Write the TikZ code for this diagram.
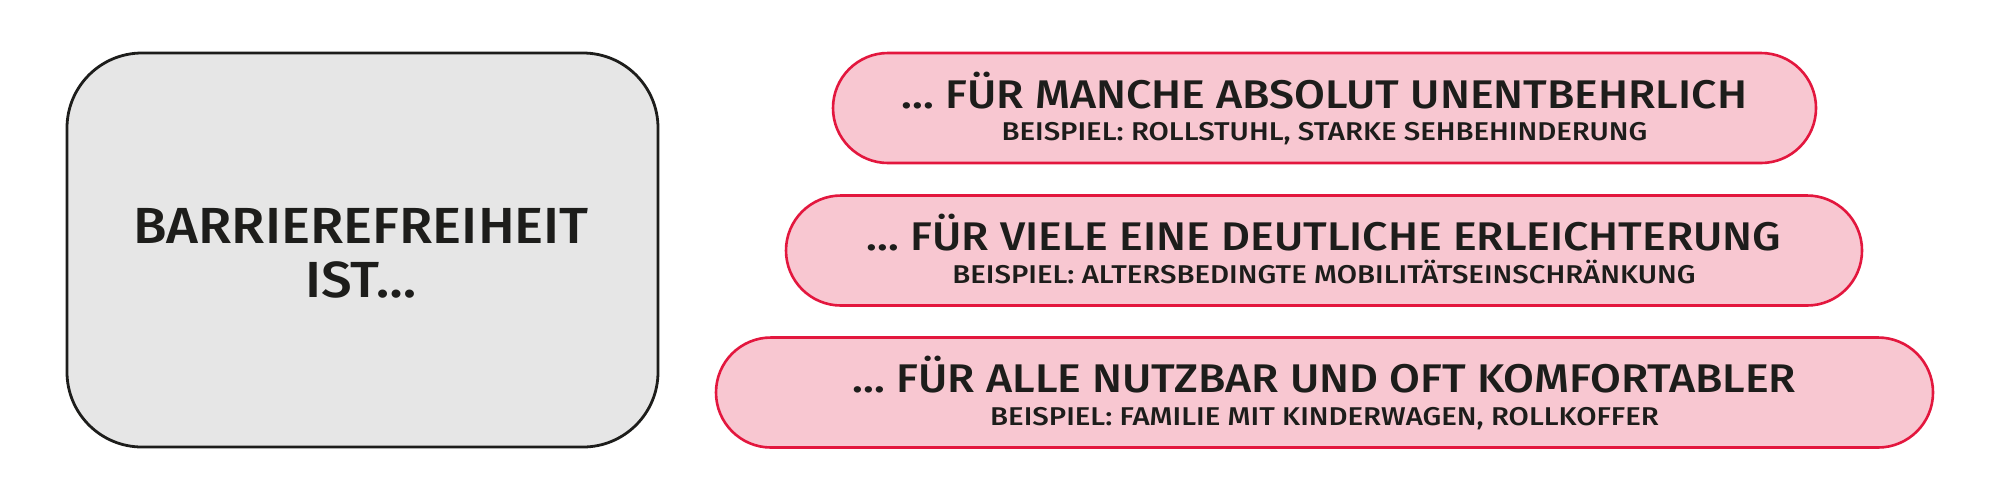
\documentclass[tikz,border=0pt]{standalone}
\usepackage{fontspec}
\setmainfont{Fira Sans}[UprightFont=* Medium]
\newfontfamily\titlefont{Fira Sans}[UprightFont=* Medium, FakeStretch=1.077]
\newfontfamily\headfont{Fira Sans}[UprightFont=* Medium, FakeStretch=1.117]
\newfontfamily\subfont{Fira Sans}[UprightFont=* Medium, FakeStretch=1.143]
\definecolor{ink}{HTML}{1D1D1B}
\definecolor{pinkfill}{HTML}{F8C7D1}
\definecolor{redline}{HTML}{E3173E}
\definecolor{grayfill}{HTML}{E6E6E6}
\tikzset{
  mainbox/.style={draw=ink, fill=grayfill, line width=1.4pt, rounded corners=37.5pt, rectangle, inner sep=0pt},
  pill/.style={draw=redline, fill=pinkfill, line width=1.3pt, rounded corners=27.5pt, rectangle, inner sep=0pt, minimum height=55pt},
  titletxt/.style={text=ink, inner sep=0pt, anchor=base, font=\titlefont\fontsize{25.4}{27}\selectfont},
  headtxt/.style={text=ink, inner sep=0pt, anchor=base, font=\headfont\fontsize{20}{23}\selectfont},
  subtxt/.style={text=ink, inner sep=0pt, anchor=base, font=\subfont\fontsize{12.85}{15}\selectfont}
}
\begin{document}
\begin{tikzpicture}[x=0.5pt,y=-0.5pt]
\useasboundingbox (0,0) rectangle (2000,500);
\fill[white] (0,0) rectangle (2000,500);
% left box
\node[mainbox, minimum width=295.5pt, minimum height=197pt] (main) at (362.5,250) {};
\node[titletxt] (t1) at (361,243) {BARRIEREFREIHEIT};
\node[titletxt] (t2) at (361,297) {IST…};
% pills
\node[pill, minimum width=491.5pt] (p1) at (1324.5,108) {};
\node[headtxt] (h1) at (1324.5,108) {… FÜR MANCHE ABSOLUT UNENTBEHRLICH};
\node[subtxt] (s1) at (1324.5,140) {BEISPIEL: ROLLSTUHL, STARKE SEHBEHINDERUNG};
\node[pill, minimum width=538pt] (p2) at (1324,250.5) {};
\node[headtxt] (h2) at (1324,250.5) {… FÜR VIELE EINE DEUTLICHE ERLEICHTERUNG};
\node[subtxt] (s2) at (1324,283) {BEISPIEL: ALTERSBEDINGTE MOBILITÄTSEINSCHRÄNKUNG};
\node[pill, minimum width=608.5pt] (p3) at (1324.5,392.5) {};
\node[headtxt] (h3) at (1324.5,392.5) {… FÜR ALLE NUTZBAR UND OFT KOMFORTABLER};
\node[subtxt] (s3) at (1324.5,425) {BEISPIEL: FAMILIE MIT KINDERWAGEN, ROLLKOFFER};
\end{tikzpicture}
\end{document}
